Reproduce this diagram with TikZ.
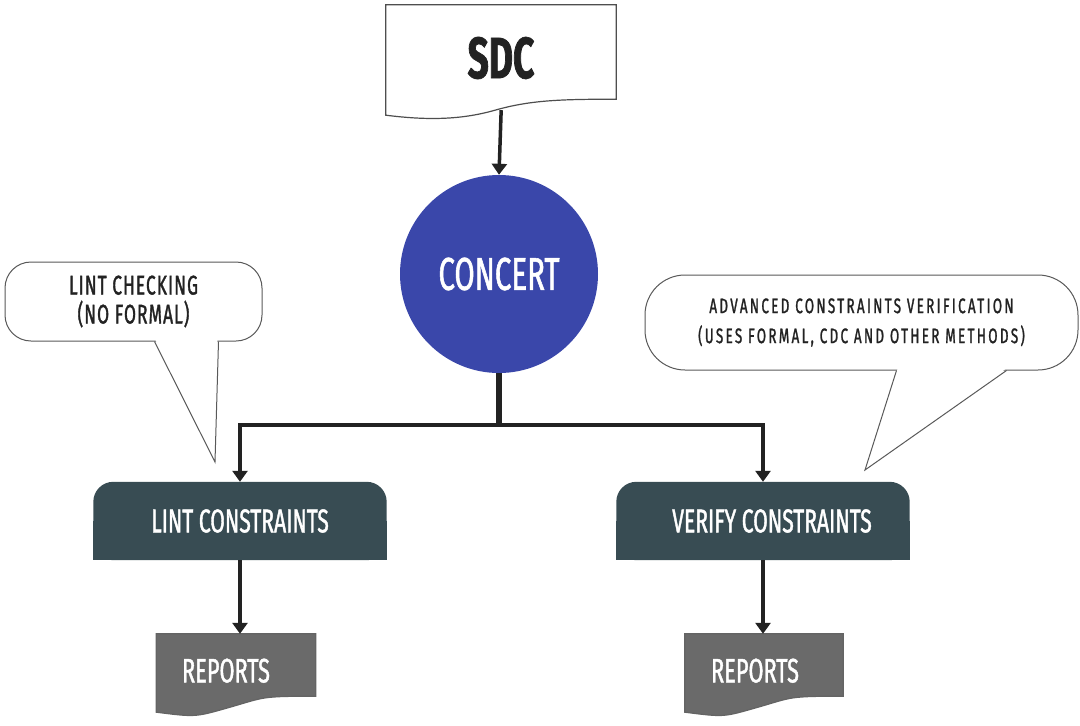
\documentclass[tikz,border=0pt]{standalone}
\usepackage{fontspec}
\setmainfont{Fira Sans}[FakeStretch=0.64,FakeBold=1.2]
\usepackage{tikz}
\usetikzlibrary{positioning,arrows.meta,calc,backgrounds}
\definecolor{concertblue}{RGB}{58,71,170}
\definecolor{slatebox}{RGB}{56,76,83}
\definecolor{reportgrey}{RGB}{106,106,106}
\definecolor{inkdark}{RGB}{34,34,34}

% document outline with a wavy lower edge, drawn behind node #1
\newcommand{\wavydoc}[3]{%
  \begin{pgfonlayer}{background}
  \filldraw[fill=#2,draw=#3,line width=1.2pt]
    (#1.north west) -- (#1.north east) -- ($(#1.south east)+(0,-16)$)
    .. controls +(-56,0) and +(35,-10) .. ($(#1.south)+(-6,-5)$)
    .. controls +(-35,10) and +(40,5) .. (#1.south west) -- cycle;
  \end{pgfonlayer}}

\begin{document}
\begin{tikzpicture}[x=1pt,y=-1pt,
  docbox/.style={rectangle,inner sep=0pt,align=center},
  stagebox/.style={rectangle,inner sep=0pt,minimum width=293pt,minimum height=78pt,
    text=white,font=\fontsize{33}{36}\selectfont},
  notebox/.style={rectangle,rounded corners=#1,draw=inkdark!75,line width=1pt,fill=white,
    text=inkdark,align=center},
  link/.style={line width=3.5pt,draw=inkdark,-{Triangle[width=15pt,length=11pt]}},
  stem/.style={line width=6pt,draw=inkdark}
]
\useasboundingbox (0,0) rectangle (1080,726);

% input and engine
\node[docbox,minimum width=230pt,minimum height=110pt,text=inkdark,
  font=\fontsize{58}{60}\bfseries] (sdc) at (501,60) {\raisebox{5pt}{SDC}};
\wavydoc{sdc}{white}{inkdark!80}
\node[circle,fill=concertblue,minimum size=198pt,inner sep=0pt,text=white,
  font=\fontsize{46}{48}\selectfont] (concert) at (499,274) {CONCERT};
\draw[link,shorten <=-5pt] (sdc.south) -- (concert.north);

% the two checks
\node[stagebox] (lint) at (240,521) {LINT CONSTRAINTS\hspace{14pt}};
\node[stagebox] (verify) at (763,521) {\hspace{18pt}VERIFY CONSTRAINTS};
\begin{pgfonlayer}{background}
  \fill[slatebox,rounded corners=20pt] (lint.south west) rectangle (lint.north east);
  \fill[slatebox] (lint.south west) rectangle (lint.east);
  \fill[slatebox,rounded corners=20pt] (verify.south west) rectangle (verify.north east);
  \fill[slatebox] (verify.south west) rectangle (verify.east);
\end{pgfonlayer}

\coordinate (split) at (499,425);
\draw[stem] (concert.south) -- (split);
\draw[link] (split) -| (lint.north);
\draw[link] (split) -| (verify.north);

% outputs
\node[docbox,minimum width=159pt,minimum height=78pt,text=white,
  font=\fontsize{34}{36}\selectfont] (leftrep) at (236,673) {\raisebox{5pt}{REPORTS}\hspace{20pt}};
\wavydoc{leftrep}{reportgrey}{inkdark!70}
\node[docbox,minimum width=158pt,minimum height=78pt,text=white,
  font=\fontsize{34}{36}\selectfont] (rightrep) at (764,673) {\raisebox{5pt}{REPORTS}\hspace{18pt}};
\wavydoc{rightrep}{reportgrey}{inkdark!70}
\draw[link] (lint.south) -- (lint.south |- leftrep.north);
\draw[link] (verify.south) -- (verify.south |- rightrep.north);

% callouts
\node[notebox=26pt,minimum width=257pt,minimum height=79pt,
  font=\fontsize{27}{29}\selectfont\addfontfeatures{LetterSpace=4}] (lintnote) at (133.5,301.5)
  {LINT CHECKING\hspace{10pt}\\(NO FORMAL)\hspace{10pt}};
\coordinate (linttip) at (215,462);
\fill[white] ($(lintnote.south west)+(151,-1.5)$) -- (linttip) -- ($(lintnote.south west)+(213,-1.5)$) -- cycle;
\draw[inkdark!75,line width=1pt] ($(lintnote.south west)+(150,0)$) -- (linttip)
  -- ($(lintnote.south west)+(214,0)$);

\node[notebox=40pt,minimum width=433pt,minimum height=95pt,
  font=\fontsize{21}{30}\selectfont\addfontfeatures{LetterSpace=11}] (verifynote) at (861.5,322.5)
  {ADVANCED CONSTRAINTS VERIFICATION\\(USES FORMAL, CDC AND OTHER METHODS)};
\coordinate (verifytip) at (865,470);
\fill[white] ($(verifynote.south west)+(253,-1.5)$) -- (verifytip) -- ($(verifynote.south west)+(361,-1.5)$) -- cycle;
\draw[inkdark!75,line width=1pt] ($(verifynote.south west)+(252,0)$) -- (verifytip)
  -- ($(verifynote.south west)+(362,0)$);
\end{tikzpicture}
\end{document}
